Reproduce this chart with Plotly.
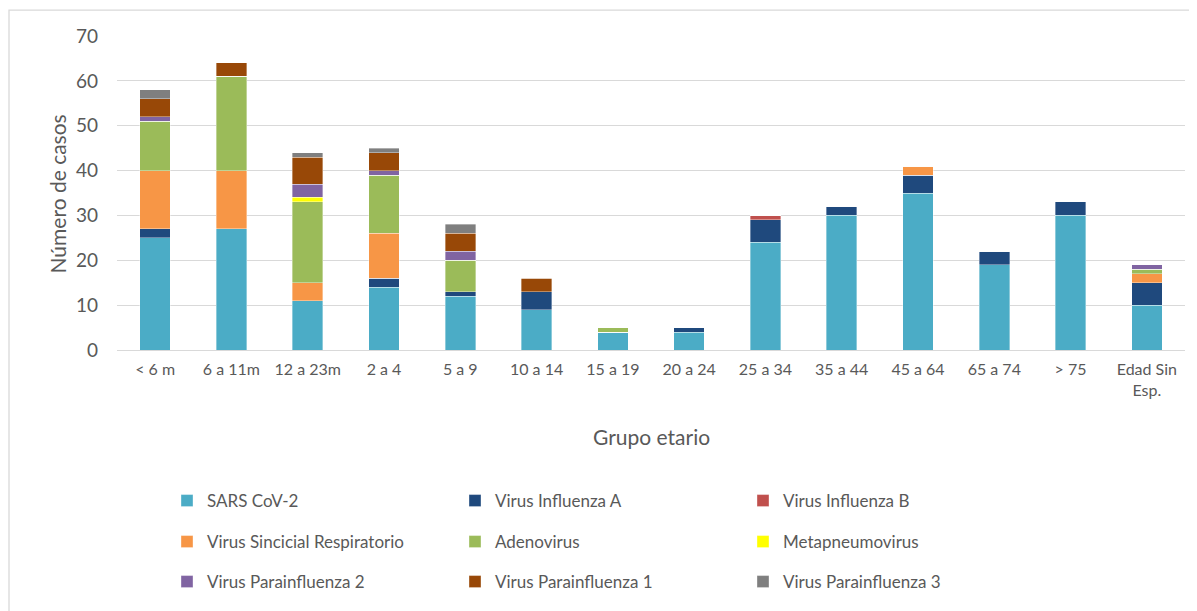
import plotly.graph_objects as go

categories = ["< 6 m", "6 a 11m", "12 a 23m", "2 a 4", "5 a 9", "10 a 14", "15 a 19",
              "20 a 24", "25 a 34", "35 a 44", "45 a 64", "65 a 74", "> 75", "Edad Sin<br>Esp."]

sars_cov2 = [25, 27, 11, 14, 12, 9, 4, 4, 24, 30, 35, 19, 30, 10]
influenza_a = [2, 0, 0, 2, 1, 4, 0, 1, 5, 2, 4, 3, 3, 5]
influenza_b = [0, 0, 0, 0, 0, 0, 0, 0, 1, 0, 0, 0, 0, 0]
vsr = [13, 13, 4, 10, 0, 0, 0, 0, 0, 0, 2, 0, 0, 2]
adenovirus = [11, 21, 18, 13, 7, 0, 1, 0, 0, 0, 0, 0, 0, 1]
metapneumovirus = [0, 0, 1, 0, 0, 0, 0, 0, 0, 0, 0, 0, 0, 0]
parainfluenza_2 = [1, 0, 3, 1, 2, 0, 0, 0, 0, 0, 0, 0, 0, 1]
parainfluenza_1 = [4, 3, 6, 4, 4, 3, 0, 0, 0, 0, 0, 0, 0, 0]
parainfluenza_3 = [2, 0, 1, 1, 2, 0, 0, 0, 0, 0, 0, 0, 0, 0]

series = [
    ("SARS CoV-2", sars_cov2, "#4BACC6", "legend"),
    ("Virus Influenza A", influenza_a, "#1F497D", "legend"),
    ("Virus Influenza B", influenza_b, "#C0504D", "legend"),
    ("Virus Sincicial Respiratorio", vsr, "#F79646", "legend2"),
    ("Adenovirus", adenovirus, "#9BBB59", "legend2"),
    ("Metapneumovirus", metapneumovirus, "#FFFF00", "legend2"),
    ("Virus Parainfluenza 2", parainfluenza_2, "#8064A2", "legend3"),
    ("Virus Parainfluenza 1", parainfluenza_1, "#984807", "legend3"),
    ("Virus Parainfluenza 3", parainfluenza_3, "#7F7F7F", "legend3"),
]

FONT = "Lato, Carlito, 'Open Sans', sans-serif"
GRAY = "#595959"

fig = go.Figure()
for name, vals, color, leg in series:
    fig.add_trace(go.Bar(
        name=name, x=categories, y=vals,
        marker=dict(color=color, line=dict(color="rgba(255,255,255,0.6)", width=0.6)),
        legend=leg,
    ))

# page places the figure at an 8px body margin; work in screen pixels
OFF = 8
SW, SH = 1197, 611
W, H = SW - OFF, SH - OFF
# plot area in screen pixels
PL, PR, PT, PB = 117, 1185, 36, 351
L, R, T, B = PL - OFF, SW - PR, PT - OFF, SH - PB
pw, ph = PR - PL, PB - PT

def sx(px):
    return (px - PL) / pw

def sy(py):
    return (PB - py) / ph

legend_common = dict(
    orientation="h", entrywidth=243, entrywidthmode="pixels",
    font=dict(family=FONT, size=17, color=GRAY), traceorder="normal",
    bgcolor="rgba(0,0,0,0)", xanchor="left", yanchor="middle",
    x=sx(167), itemclick=False, itemdoubleclick=False,
)

fig.update_layout(
    width=W, height=H,
    margin=dict(l=L, r=R, t=T, b=B),
    plot_bgcolor="white", paper_bgcolor="white",
    barmode="stack", bargap=0.6,
    font=dict(family=FONT, color=GRAY),
    legend=dict(**legend_common, y=sy(501)),
    legend2=dict(**legend_common, y=sy(542)),
    legend3=dict(**legend_common, y=sy(582)),
    xaxis=dict(
        showgrid=False, showline=True, linecolor="#D9D9D9", linewidth=1.3,
        tickfont=dict(family=FONT, size=16, color=GRAY), ticklabelstandoff=5,
        fixedrange=True,
    ),
    yaxis=dict(
        range=[0, 70], dtick=10, showgrid=True, gridcolor="#D9D9D9", gridwidth=1.3,
        zeroline=False, showline=False,
        tickfont=dict(family=FONT, size=19, color=GRAY), ticklabelstandoff=18,
        fixedrange=True,
    ),
    annotations=[
        dict(text="Grupo etario", xref="paper", yref="paper",
             x=0.5, y=sy(438), xanchor="center", yanchor="middle",
             showarrow=False, font=dict(family=FONT, size=21, color=GRAY)),
        dict(text="Número de casos", xref="paper", yref="paper",
             x=sx(57), y=sy(195), xanchor="center", yanchor="middle",
             textangle=-90, showarrow=False, font=dict(family=FONT, size=21, color=GRAY)),
    ],
    shapes=[
        dict(type="rect", xref="paper", yref="paper",
             x0=sx(9), x1=sx(1210),
             y0=sy(625), y1=sy(10),
             line=dict(color="#D9D9D9", width=1.3), layer="below"),
    ],
)

fig.write_html("out.html")
